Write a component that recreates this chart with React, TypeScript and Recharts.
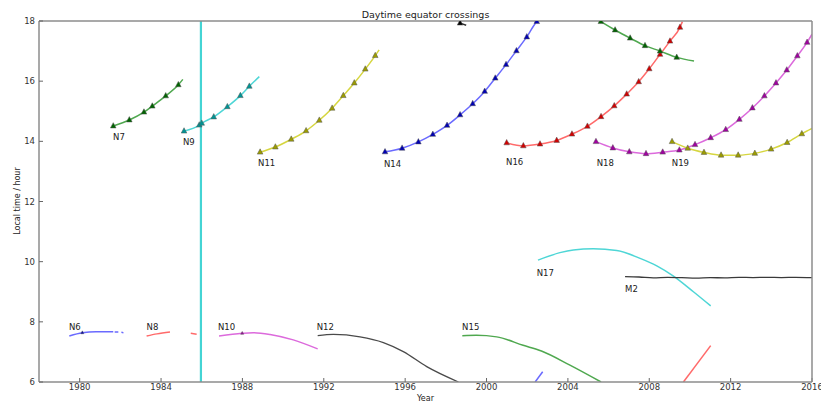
import { ComposedChart, Line, Scatter, XAxis, YAxis } from 'recharts';

type P = [number, number | null];

// afternoon tracks: triangle markers, line runs a bit past the last one
const N7_MARKS: P[] = [[1981.65, 14.51], [1982.44, 14.71], [1983.16, 14.97], [1983.57, 15.17], [1984.23, 15.51], [1984.85, 15.88]];
const N7_END: P = [1985.07, 16.06];
const N9_MARKS: P[] = [[1985.13, 14.34], [1985.88, 14.54], [1986.0, 14.6], [1986.59, 14.81], [1987.26, 15.15], [1987.9, 15.52], [1988.34, 15.83]];
const N9_END: P = [1988.83, 16.15];
const N11_MARKS: P[] = [[1988.87, 13.64], [1989.62, 13.81], [1990.4, 14.07], [1991.13, 14.35], [1991.78, 14.7], [1992.41, 15.1], [1992.96, 15.52], [1993.5, 15.94], [1994.04, 16.4], [1994.53, 16.85]];
const N11_END: P = [1994.72, 17.04];
const N14_MARKS: P[] = [[1995.01, 13.65], [1995.85, 13.77], [1996.65, 13.98], [1997.36, 14.23], [1998.06, 14.53], [1998.7, 14.88], [1999.32, 15.25], [1999.91, 15.66], [2000.43, 16.1], [2000.96, 16.55], [2001.47, 17.01], [2001.98, 17.47], [2002.47, 17.98]];
const N14_END: P = [2002.5, 18.0];
const N16_MARKS: P[] = [[2000.99, 13.95], [2001.81, 13.85], [2002.63, 13.91], [2003.45, 14.03], [2004.2, 14.24], [2004.96, 14.5], [2005.63, 14.82], [2006.28, 15.18], [2006.89, 15.57], [2007.48, 15.98], [2008.0, 16.41], [2008.53, 16.89], [2009.02, 17.33], [2009.51, 17.79]];
const N16_END: P = [2009.63, 17.98];
const GREEN_MARKS: P[] = [[2005.62, 17.98], [2006.32, 17.7], [2007.06, 17.43], [2007.79, 17.18], [2008.53, 17.0], [2009.35, 16.79]];
const GREEN_END: P = [2010.2, 16.67];
const N18_MARKS: P[] = [[2005.38, 13.99], [2006.21, 13.78], [2007.02, 13.65], [2007.84, 13.59], [2008.66, 13.64], [2009.48, 13.71], [2010.25, 13.89], [2011.02, 14.12], [2011.76, 14.39], [2012.43, 14.73], [2013.07, 15.11], [2013.66, 15.51], [2014.23, 15.94], [2014.76, 16.37], [2015.28, 16.84], [2015.76, 17.29]];
const N18_END: P = [2016.0, 17.56];
const N19_MARKS: P[] = [[2009.12, 13.99], [2009.89, 13.77], [2010.69, 13.63], [2011.53, 13.54], [2012.37, 13.54], [2013.19, 13.6], [2013.99, 13.74], [2014.78, 13.96], [2015.5, 14.25]];
const N19_END: P = [2016.0, 14.43];
const BLACK_MARKS: P[] = [[1998.7, 17.93]];
const BLACK_END: P = [1999.0, 17.86];

// morning tracks: plain lines, null = gap in the record
const N6_LINE: P[] = [[1979.49, 7.53], [1980.13, 7.64], [1980.8, 7.67], [1981.65, 7.67], [1981.68, null], [1981.72, 7.66], [1981.9, 7.66], [1981.98, null], [1982.05, 7.65], [1982.15, 7.64]];
const N6_MARKS: P[] = [[1980.13, 7.64]];
const N8_LINE: P[] = [[1983.29, 7.53], [1983.8, 7.6], [1984.44, 7.66], [1985.0, null], [1985.46, 7.62], [1985.75, 7.59]];
const N10_LINE: P[] = [[1986.85, 7.53], [1987.99, 7.62], [1988.54, 7.64], [1989.36, 7.58], [1990.5, 7.4], [1991.7, 7.1]];
const N10_MARKS: P[] = [[1987.99, 7.62]];
const N12_LINE: P[] = [[1991.7, 7.54], [1992.47, 7.58], [1993.78, 7.5], [1994.93, 7.31], [1995.91, 7.01], [1997.06, 6.51], [1998.62, 6.0]];
const N15_LINE: P[] = [[1998.81, 7.54], [1999.5, 7.55], [2000.5, 7.5], [2001.8, 7.22], [2002.7, 7.03], [2004.1, 6.56], [2005.63, 6.0]];
const N17_LINE: P[] = [[2002.53, 10.05], [2003.61, 10.3], [2004.27, 10.39], [2005.25, 10.43], [2006.4, 10.37], [2007.55, 10.11], [2008.37, 9.86], [2009.19, 9.52], [2010.17, 9.0], [2011.02, 8.53]];
const M2_LINE: P[] = [[2006.81, 9.5], [2007.5, 9.49], [2008.2, 9.46], [2008.9, 9.48], [2009.6, 9.47], [2010.3, 9.45], [2011.0, 9.47], [2011.7, 9.46], [2012.4, 9.48], [2013.1, 9.47], [2013.8, 9.48], [2014.5, 9.47], [2015.2, 9.48], [2016.0, 9.47]];
const BLUE_LINE: P[] = [[2002.39, 6.0], [2002.76, 6.34]];
const RED_LINE: P[] = [[2009.68, 6.0], [2011.02, 7.21]];
const N9_JUMP: P[] = [[1985.96, 6.0], [1985.96, 18.0]];

const LABEL_NAMES = ['N6', 'N7', 'N8', 'N9', 'N10', 'N11', 'N12', 'N14', 'N15', 'N16', 'N17', 'N18', 'N19', 'M2'];
const LABEL_YEARS = [1979.47, 1981.64, 1983.29, 1985.08, 1986.8, 1988.77, 1991.65, 1994.96, 1998.8, 2000.96, 2002.47, 2005.42, 2009.11, 2006.81];
const LABEL_HOURS = [7.83, 14.14, 7.83, 13.99, 7.83, 13.28, 7.83, 13.25, 7.83, 13.32, 9.63, 13.28, 13.28, 9.09];

const YEAR_TICKS = [1980, 1984, 1988, 1992, 1996, 2000, 2004, 2008, 2012, 2016];
const HOUR_TICKS = [6, 8, 10, 12, 14, 16, 18];

const toPts = (a: P[]) => a.map(([x, y]) => ({ x, y }));

const upper = [
    { id: 'N7', marks: N7_MARKS, end: N7_END, line: '#4fa84f', mark: '#006400' },
    { id: 'N9', marks: N9_MARKS, end: N9_END, line: '#4ed6d6', mark: '#009494' },
    { id: 'N11', marks: N11_MARKS, end: N11_END, line: '#d6d640', mark: '#9c9c00' },
    { id: 'N14', marks: N14_MARKS, end: N14_END, line: '#6a6aff', mark: '#0000b4' },
    { id: 'N16', marks: N16_MARKS, end: N16_END, line: '#ff6a6a', mark: '#d20000' },
    { id: 'G', marks: GREEN_MARKS, end: GREEN_END, line: '#4fa84f', mark: '#006400' },
    { id: 'N18', marks: N18_MARKS, end: N18_END, line: '#dc6adc', mark: '#a000a0' },
    { id: 'N19', marks: N19_MARKS, end: N19_END, line: '#d6d640', mark: '#9c9c00' },
    { id: 'K', marks: BLACK_MARKS, end: BLACK_END, line: '#333333', mark: '#000000' },
];

const lower = [
    { id: 'N6', pts: N6_LINE, marks: N6_MARKS, line: '#6a6aff', mark: '#0000b4', w: 1.5 },
    { id: 'N8', pts: N8_LINE, marks: [], line: '#ff6a6a', mark: '#d20000', w: 1.5 },
    { id: 'N10', pts: N10_LINE, marks: N10_MARKS, line: '#dc6adc', mark: '#a000a0', w: 1.5 },
    { id: 'N12', pts: N12_LINE, marks: [], line: '#4a4a4a', mark: '#000', w: 1.3 },
    { id: 'N15', pts: N15_LINE, marks: [], line: '#4fa84f', mark: '#006400', w: 1.5 },
    { id: 'N17', pts: N17_LINE, marks: [], line: '#4ed6d6', mark: '#009494', w: 1.5 },
    { id: 'M2', pts: M2_LINE, marks: [], line: '#3a3a3a', mark: '#000', w: 1.3 },
    { id: 'B', pts: BLUE_LINE, marks: [], line: '#6a6aff', mark: '#0000b4', w: 1.5 },
    { id: 'R', pts: RED_LINE, marks: [], line: '#ff6a6a', mark: '#d20000', w: 1.5 },
];

const labels = LABEL_NAMES.map((name, i) => ({ x: LABEL_YEARS[i], y: LABEL_HOURS[i], name }));

const triangle = (color: string, small = false) => (p: any) => {
    const { cx, cy } = p;
    if (cx == null || cy == null) return <g />;
    const h = small ? 1.5 : 2.8;
    return (
        <polygon
            points={`${cx},${cy - h * 1.2} ${cx - h},${cy + h * 0.7} ${cx + h},${cy + h * 0.7}`}
            fill={color}
            stroke="#555"
            strokeWidth={0.5}
        />
    );
};

const labelShape = (p: any) => (
    <text x={p.cx} y={p.cy} dominantBaseline="central" fontSize={8.5} fill="#222" fontFamily="DejaVu Sans">
        {p.payload.name}
    </text>
);

const font = { fontSize: 8.5, fill: '#333', fontFamily: 'DejaVu Sans' };
const frame = { stroke: '#8c8c8c', strokeWidth: 1.5 };
const tickLine = { stroke: '#666' };

export default function App() {
    return (
        <div style={{ position: 'absolute', left: 0, top: 0, width: 821, height: 403, background: '#fff' }}>
            <ComposedChart width={821} height={403} margin={{ top: 20, right: 8, bottom: 0, left: 0 }}>
                <XAxis xAxisId={0} dataKey="x" type="number" domain={[1978, 2016]} ticks={YEAR_TICKS} allowDataOverflow
                    height={21} tickSize={-4} tickMargin={6} tick={font} axisLine={frame} tickLine={tickLine} />
                <XAxis xAxisId="top" orientation="top" dataKey="x" type="number" domain={[1978, 2016]} ticks={YEAR_TICKS}
                    height={1} tickSize={-4} tick={false} axisLine={frame} tickLine={tickLine} />
                <YAxis yAxisId={0} dataKey="y" type="number" domain={[6, 18]} ticks={HOUR_TICKS} allowDataOverflow
                    width={39} tickSize={-4} tickMargin={8} tick={font} axisLine={frame} tickLine={tickLine} />
                <YAxis yAxisId="right" orientation="right" dataKey="y" type="number" domain={[6, 18]} ticks={HOUR_TICKS}
                    width={1} tickSize={-4} tick={false} axisLine={frame} tickLine={tickLine} />

                <Line data={toPts(N9_JUMP)} dataKey="y" type="linear" stroke="#44d4d4" strokeWidth={2.2} dot={false} isAnimationActive={false} />

                {lower.map((s) => (
                    <Line key={'l' + s.id} data={toPts(s.pts)} dataKey="y" type="monotone" stroke={s.line} strokeWidth={s.w}
                        dot={false} connectNulls={false} isAnimationActive={false} />
                ))}
                {lower.filter((s) => s.marks.length).map((s) => (
                    <Scatter key={'lm' + s.id} data={toPts(s.marks)} dataKey="y" shape={triangle(s.mark, true)} isAnimationActive={false} />
                ))}

                {upper.map((s) => (
                    <Line key={'u' + s.id} data={toPts([...s.marks, s.end])} dataKey="y" type="monotone" stroke={s.line}
                        strokeWidth={1.5} dot={false} isAnimationActive={false} />
                ))}
                {upper.map((s) => (
                    <Scatter key={'um' + s.id} data={toPts(s.marks)} dataKey="y" shape={triangle(s.mark)} isAnimationActive={false} />
                ))}

                <Scatter data={labels} dataKey="y" shape={labelShape} isAnimationActive={false} />
            </ComposedChart>
            <svg width={821} height={403} style={{ position: 'absolute', left: 0, top: 0, pointerEvents: 'none' }}>
                <text x={425.5} y={14} textAnchor="middle" dominantBaseline="central" fontSize={9.5} fill="#222" fontFamily="DejaVu Sans">
                    Daytime equator crossings
                </text>
                <text x={17} y={201} textAnchor="middle" dominantBaseline="central" fontSize={8} fill="#222" fontFamily="DejaVu Sans"
                    transform="rotate(-90 17 201)">
                    Local time / hour
                </text>
                <text x={425.5} y={398} textAnchor="middle" dominantBaseline="central" fontSize={8} fill="#222" fontFamily="DejaVu Sans">
                    Year
                </text>
            </svg>
        </div>
    );
}
